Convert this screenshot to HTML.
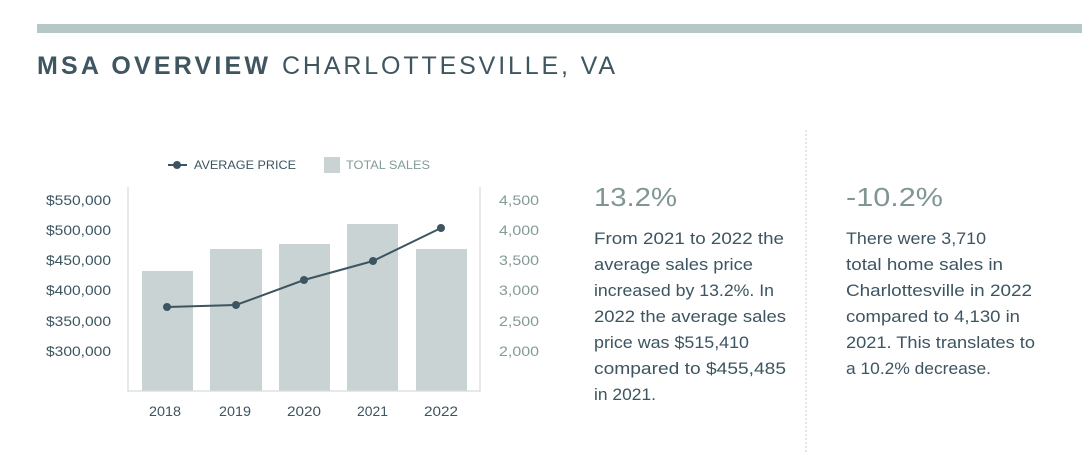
<!DOCTYPE html>
<html><head><meta charset="utf-8"><style>
html,body{margin:0;padding:0;background:#fff;}
svg{display:block;font-family:"Liberation Sans",sans-serif;}
</style></head><body>
<svg width="1082" height="474" viewBox="0 0 1082 474" xmlns="http://www.w3.org/2000/svg">
<rect x="37" y="24" width="1045" height="9" fill="#b5c8c5"/>
<text x="37" y="74" font-size="25" font-weight="bold" fill="#3f5660" textLength="231" lengthAdjust="spacing">MSA OVERVIEW</text>
<text x="282" y="74" font-size="25" fill="#3f5660" textLength="333" lengthAdjust="spacing">CHARLOTTESVILLE, VA</text>
<!-- legend -->
<line x1="168" y1="165" x2="187" y2="165" stroke="#3c5560" stroke-width="2"/>
<circle cx="177" cy="165" r="4" fill="#3c5560"/>
<text x="194" y="169" font-size="12" fill="#3c5560" textLength="102" lengthAdjust="spacingAndGlyphs">AVERAGE PRICE</text>
<rect x="324" y="157" width="16" height="16" fill="#c9d3d3"/>
<text x="346" y="169" font-size="12" fill="#849a98" textLength="84" lengthAdjust="spacingAndGlyphs">TOTAL SALES</text>
<!-- bars -->
<g fill="#c9d3d3">
<rect x="142" y="271" width="51" height="120"/>
<rect x="210" y="249" width="52" height="142"/>
<rect x="279" y="244" width="51" height="147"/>
<rect x="347" y="224" width="51" height="167"/>
<rect x="416" y="249" width="51" height="142"/>
</g>
<!-- axes -->
<line x1="128" y1="187" x2="128" y2="391" stroke="#d5dcdc" stroke-width="1.2"/>
<line x1="480" y1="187" x2="480" y2="391" stroke="#d5dcdc" stroke-width="1.2"/>
<line x1="127" y1="391" x2="481" y2="391" stroke="#d5dcdc" stroke-width="1.2"/>
<!-- line -->
<polyline points="167,307 236,305 304,280 373,261 441,228" fill="none" stroke="#3c5560" stroke-width="2"/>
<g fill="#3c5560">
<circle cx="167" cy="307" r="4"/><circle cx="236" cy="305" r="4"/><circle cx="304" cy="280" r="4"/><circle cx="373" cy="261" r="4"/><circle cx="441" cy="228" r="4"/>
</g>
<!-- left ticks -->
<g font-size="13.5" fill="#3c5560">
<text x="46" y="205" textLength="65" lengthAdjust="spacingAndGlyphs">$550,000</text>
<text x="46" y="235" textLength="65" lengthAdjust="spacingAndGlyphs">$500,000</text>
<text x="46" y="265" textLength="65" lengthAdjust="spacingAndGlyphs">$450,000</text>
<text x="46" y="295" textLength="65" lengthAdjust="spacingAndGlyphs">$400,000</text>
<text x="46" y="326" textLength="65" lengthAdjust="spacingAndGlyphs">$350,000</text>
<text x="46" y="356" textLength="65" lengthAdjust="spacingAndGlyphs">$300,000</text>
</g>
<g font-size="13.5" fill="#849a98">
<text x="499" y="205" textLength="40" lengthAdjust="spacingAndGlyphs">4,500</text>
<text x="499" y="235" textLength="40" lengthAdjust="spacingAndGlyphs">4,000</text>
<text x="499" y="265" textLength="40" lengthAdjust="spacingAndGlyphs">3,500</text>
<text x="499" y="295" textLength="40" lengthAdjust="spacingAndGlyphs">3,000</text>
<text x="499" y="326" textLength="40" lengthAdjust="spacingAndGlyphs">2,500</text>
<text x="499" y="356" textLength="40" lengthAdjust="spacingAndGlyphs">2,000</text>
</g>
<g font-size="13.5" fill="#3c5560">
<text x="149" y="416" textLength="32" lengthAdjust="spacingAndGlyphs">2018</text>
<text x="219" y="416" textLength="32" lengthAdjust="spacingAndGlyphs">2019</text>
<text x="287" y="416" textLength="34" lengthAdjust="spacingAndGlyphs">2020</text>
<text x="357" y="416" textLength="31" lengthAdjust="spacingAndGlyphs">2021</text>
<text x="424" y="416" textLength="34" lengthAdjust="spacingAndGlyphs">2022</text>
</g>
<line x1="806" y1="130" x2="806" y2="452" stroke="#cfd5d5" stroke-width="1.2" stroke-dasharray="2,2"/>
<text x="594" y="206" font-size="26" fill="#7f9694" textLength="83" lengthAdjust="spacingAndGlyphs">13.2%</text>
<text x="846" y="206" font-size="26" fill="#7f9694" textLength="97" lengthAdjust="spacingAndGlyphs">-10.2%</text>
<g font-size="16.5" fill="#3c5560">
<text x="594" y="244" textLength="190" lengthAdjust="spacingAndGlyphs">From 2021 to 2022 the</text>
<text x="594" y="270" textLength="159" lengthAdjust="spacingAndGlyphs">average sales price</text>
<text x="594" y="296" textLength="180" lengthAdjust="spacingAndGlyphs">increased by 13.2%. In</text>
<text x="594" y="322" textLength="192" lengthAdjust="spacingAndGlyphs">2022 the average sales</text>
<text x="594" y="348" textLength="155" lengthAdjust="spacingAndGlyphs">price was $515,410</text>
<text x="594" y="374" textLength="192" lengthAdjust="spacingAndGlyphs">compared to $455,485</text>
<text x="594" y="400" textLength="62" lengthAdjust="spacingAndGlyphs">in 2021.</text>
<text x="846" y="244" textLength="140" lengthAdjust="spacingAndGlyphs">There were 3,710</text>
<text x="846" y="270" textLength="157" lengthAdjust="spacingAndGlyphs">total home sales in</text>
<text x="846" y="296" textLength="186" lengthAdjust="spacingAndGlyphs">Charlottesville in 2022</text>
<text x="846" y="322" textLength="174" lengthAdjust="spacingAndGlyphs">compared to 4,130 in</text>
<text x="846" y="348" textLength="189" lengthAdjust="spacingAndGlyphs">2021. This translates to</text>
<text x="846" y="374" textLength="145" lengthAdjust="spacingAndGlyphs">a 10.2% decrease.</text>
</g>
</svg>
</body></html>
